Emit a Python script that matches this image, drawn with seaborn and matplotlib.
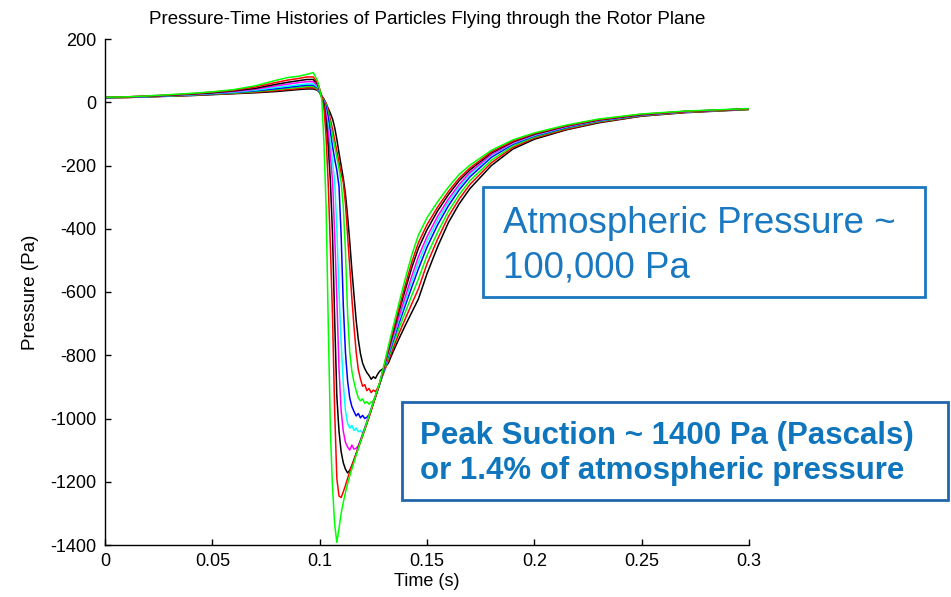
import matplotlib
matplotlib.use("Agg")
import matplotlib.pyplot as plt
from matplotlib.patches import Rectangle
import pandas as pd
import seaborn as sns

# time axis shared by all runs (s)
time_s = [0.000, 0.010, 0.020, 0.030, 0.040, 0.050, 0.060, 0.070, 0.080, 0.085, 0.090, 0.094, 0.097, 0.099,
          0.100, 0.101, 0.102, 0.103, 0.104, 0.105, 0.106, 0.107, 0.108, 0.109, 0.110, 0.111, 0.112, 0.113,
          0.114, 0.115, 0.116, 0.117, 0.118, 0.119, 0.120, 0.121, 0.122, 0.123, 0.124, 0.125, 0.126, 0.127, 0.128,
          0.130, 0.132, 0.134, 0.137, 0.140, 0.143, 0.146, 0.150, 0.155, 0.160, 0.165, 0.170, 0.180, 0.190,
          0.200, 0.215, 0.230, 0.250, 0.270, 0.300]

# pressure histories (Pa)
p_black_1 = [14, 15, 17, 19, 21, 24, 27, 30, 34, 37, 40, 42, 42, 38,
             30, 20, 10, -5, -20, -35, -53, -80, -117, -160, -200, -240, -290, -360, -440, -530, -610, -690,
             -750, -795, -825, -842, -855, -864, -876, -868, -873, -860, -850,
             -840, -825, -792, -747, -704, -663, -622, -542, -456, -380, -321, -273, -200, -148, -117, -87, -65,
             -44, -33, -23]
p_red_1 = [14, 15, 17, 20, 22, 25, 28, 32, 37, 40, 43, 46, 46, 40,
           30, 18, 8, -3, -25, -55, -85, -120, -155, -190, -225, -253, -320, -420, -520, -620, -710, -790,
           -845, -875, -898, -893, -912, -905, -918, -910, -915, -903, -888,
           -853, -817, -781, -730, -683, -636, -590, -511, -432, -361, -306, -260, -191, -143, -113, -85, -63,
           -43, -32, -22]
p_green_1 = [14, 16, 18, 20, 23, 26, 29, 34, 40, 44, 47, 50, 50, 42,
             30, 17, 6, -8, -35, -70, -105, -140, -175, -210, -253, -330, -470, -665, -790, -850, -885, -912,
             -935, -944, -938, -952, -947, -955, -948, -944, -928, -909, -889,
             -849, -809, -770, -714, -662, -609, -559, -484, -410, -344, -292, -248, -183, -138, -110, -82, -61,
             -42, -31, -22]
p_blue = [15, 16, 18, 21, 24, 27, 31, 36, 43, 47, 51, 54, 54, 45,
          32, 18, 5, -15, -50, -95, -140, -180, -215, -265, -420, -640, -790, -880, -935, -962, -978, -992,
          -984, -998, -990, -1000, -996, -988, -972, -951, -931, -911, -890,
          -846, -801, -759, -698, -640, -583, -527, -458, -387, -327, -277, -236, -174, -133, -107, -80, -59,
          -41, -30, -21]
p_cyan = [15, 16, 18, 21, 24, 28, 32, 38, 47, 51, 55, 58, 58, 48,
          34, 18, 2, -30, -75, -130, -190, -250, -400, -600, -760, -890, -975, -1015, -1030, -1022, -1038, -1030,
          -1042, -1038, -1046, -1030, -1010, -990, -970, -950, -930, -910, -889,
          -843, -796, -752, -687, -626, -565, -506, -440, -372, -315, -268, -228, -168, -130, -105, -78, -58,
          -40, -30, -21]
p_magenta = [15, 16, 19, 22, 25, 29, 34, 41, 52, 57, 62, 65, 65, 52,
             36, 16, 0, -40, -100, -170, -250, -420, -620, -840, -975, -1040, -1075, -1090, -1100, -1084, -1097,
             -1094, -1086, -1068, -1049, -1030, -1010, -990, -969, -948, -928, -908, -887,
             -840, -791, -745, -676, -612, -548, -488, -425, -360, -306, -260, -222, -165, -128, -103, -77, -57,
             -40, -30, -21]
p_black_2 = [15, 17, 19, 22, 26, 30, 36, 44, 57, 63, 68, 72, 72, 58,
             38, 15, -5, -60, -140, -250, -420, -690, -930, -1040, -1105, -1140, -1160, -1172, -1164, -1150, -1130,
             -1111, -1091, -1072, -1053, -1034, -1014, -994, -973, -952, -931, -911, -890,
             -836, -784, -734, -660, -590, -521, -462, -403, -343, -292, -248, -214, -160, -125, -101, -75, -56,
             -39, -29, -21]
p_red_2 = [16, 17, 20, 23, 27, 32, 38, 48, 63, 70, 75, 80, 80, 62,
           42, 18, -15, -110, -260, -460, -680, -980, -1190, -1245, -1250, -1232, -1212, -1190, -1168, -1148, -1131,
           -1112, -1093, -1074, -1055, -1036, -1016, -996, -975, -953, -932, -910, -887,
           -834, -779, -727, -650, -576, -504, -444, -387, -331, -282, -240, -208, -157, -123, -99, -74, -55,
           -38, -29, -21]
p_green_2 = [16, 17, 20, 24, 28, 33, 40, 52, 70, 78, 82, 88, 94, 68,
             40, 8, -130, -330, -700, -1040, -1220, -1335, -1392, -1348, -1300, -1265, -1235, -1207, -1182, -1160,
             -1138, -1116, -1095, -1074, -1053, -1033, -1012, -991, -970, -949, -928, -907, -886,
             -830, -772, -716, -634, -555, -481, -420, -365, -314, -268, -228, -199, -152, -119, -97, -72, -53,
             -37, -28, -20]

runs = [p_black_1, p_red_1, p_green_1, p_blue, p_cyan, p_magenta, p_black_2, p_red_2, p_green_2]
run_colours = ["#000000", "#ff0000", "#00ff00", "#0000ff", "#00ffff", "#ff00ff", "#000000", "#ff0000", "#00ff00"]

x_ticks = [0, 0.05, 0.1, 0.15, 0.2, 0.25, 0.3]
x_ticklabels = ["0", "0.05", "0.1", "0.15", "0.2", "0.25", "0.3"]
y_ticks = [200, 0, -200, -400, -600, -800, -1000, -1200, -1400]

frames = []
for run_id, vals in enumerate(runs):
    frames.append(pd.DataFrame({"time": time_s, "pressure": vals, "run": run_id}))
df = pd.concat(frames, ignore_index=True)

sns.set_style("ticks")
plt.rcParams["font.family"] = ["Liberation Sans", "DejaVu Sans"]
plt.rcParams["axes.unicode_minus"] = False
plt.rcParams["text.color"] = "black"
plt.rcParams["axes.labelcolor"] = "black"

W, H = 951, 597
fig = plt.figure(figsize=(W / 100, H / 100), dpi=100)
ax = fig.add_axes([105 / W, 1 - 545 / H, (749 - 105) / W, (545 - 39) / H])

sns.lineplot(data=df, x="time", y="pressure", hue="run", palette=run_colours, estimator=None,
             sort=False, legend=False, linewidth=1.1, ax=ax)

ax.set_xlim(0, 0.3)
ax.set_ylim(-1400, 200)
ax.set_xticks(x_ticks)
ax.set_xticklabels(x_ticklabels)
ax.set_yticks(y_ticks)
ax.set_yticklabels([str(v) for v in y_ticks])
ax.tick_params(direction="in", length=4, width=1, labelsize=13, pad=6, colors="black")
sns.despine(ax=ax)
for side in ["left", "bottom"]:
    ax.spines[side].set_linewidth(1.0)
    ax.spines[side].set_color("black")

ax.set_xlabel("Time (s)", fontsize=13, labelpad=2, color="black")
ax.set_ylabel("Pressure (Pa)", fontsize=13.5, labelpad=8, color="black")
ax.set_title("Pressure-Time Histories of Particles Flying through the Rotor Plane", fontsize=13.5, pad=11,
             color="black")


def px_box(x0, y0, x1, y1, colour, lw):
    # rectangle given in picture pixels (top-left origin)
    rect = Rectangle((x0 / W, 1 - y1 / H), (x1 - x0) / W, (y1 - y0) / H, transform=fig.transFigure,
                     fill=False, edgecolor=colour, linewidth=lw, zorder=5)
    fig.patches.append(rect)


def px_text(x, y, s, **kw):
    fig.text(x / W, 1 - y / H, s, ha="left", va="baseline", **kw)


box_blue = "#1a78c0"
px_box(483, 187, 925, 297, box_blue, 2.0)
px_text(503, 233, "Atmospheric Pressure ~", fontsize=26.5, color=box_blue)
px_text(503, 278, "100,000 Pa", fontsize=26.5, color=box_blue)

px_box(402, 402, 948, 500, "#2166ac", 2.0)
px_text(420, 444, "Peak Suction ~ 1400 Pa (Pascals)", fontsize=22.5, fontweight="bold", color="#0f75bd")
px_text(420, 479, "or 1.4% of atmospheric pressure", fontsize=22.5, fontweight="bold", color="#0f75bd")

fig.savefig("out.png", dpi=100)
